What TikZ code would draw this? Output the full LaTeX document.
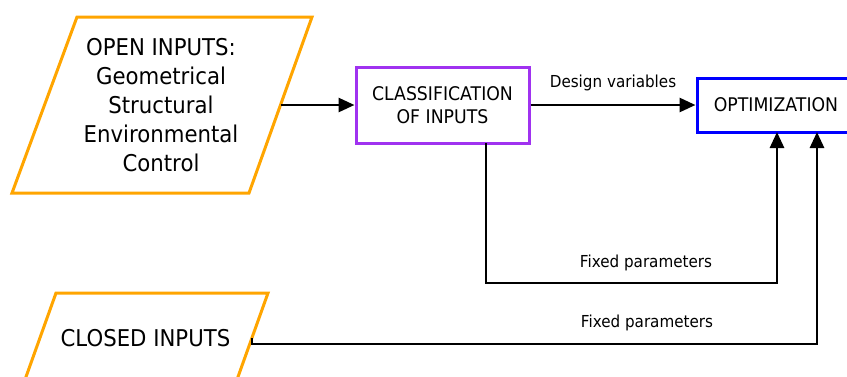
\documentclass[tikz,border=0pt]{standalone}
\usepackage{fontspec}
\setmainfont[FakeStretch=0.92]{DejaVu Sans}
\usetikzlibrary{arrows.meta,calc}
\definecolor{inorange}{RGB}{255,165,0}
\definecolor{clspurple}{RGB}{160,50,240}
\definecolor{optblue}{RGB}{0,0,255}
\tikzset{
  inputshape/.style={draw=inorange, line width=3pt, fill=white},
  bigtext/.style={font=\fontsize{23.1}{29}\selectfont, align=center, inner sep=0pt},
  boxtext/.style={font=\fontsize{18.8}{23}\selectfont, align=center},
  edgelabel/.style={font=\fontsize{16.5}{20}\selectfont, inner sep=0pt},
  wire/.style={draw=black, line width=2.8pt},
  flow/.style={wire, -{Triangle[length=16pt,width=14pt]}},
}
\begin{document}
\begin{tikzpicture}[x=1pt,y=-1pt]
\useasboundingbox (0,0) rectangle (847,376);
\clip (0,0) rectangle (847,376);

% open inputs (parallelogram)
\draw[inputshape] (77,17) -- (312,17) -- (249,193) -- (12,193) -- cycle;
\node[bigtext] (open) at (161,105) {OPEN INPUTS:\\Geometrical\\Structural\\Environmental\\Control};
\coordinate (openR) at (280.5,105);

% closed inputs (parallelogram, running past the lower edge)
\draw[inputshape] (56,293) -- (268,293) -- (229,402) -- (17,402) -- cycle;
\node[bigtext] (closed) at (145.5,338) {CLOSED INPUTS};
\coordinate (closedR) at (252,338);

% classification box
\node[draw=clspurple, line width=3pt, minimum width=173pt, minimum height=76pt,
      boxtext, inner sep=0pt] (cls) at (442.5,105) {CLASSIFICATION\\OF INPUTS};

% optimization box
\node[draw=optblue, line width=3pt, minimum width=158pt, minimum height=54pt,
      boxtext, inner sep=0pt] (opt) at (776,105) {OPTIMIZATION};

% connectors
\draw[flow] (openR) -- (cls.west);
\draw[flow] (cls.east) -- node[edgelabel, above=13pt] (dv) {Design variables} (opt.west);

\coordinate (clsB) at (486,143);
\coordinate (optB1) at (777,132);
\coordinate (optB2) at (817,132);
\draw[flow] (clsB) -- (486,283) -- (777,283) -- (optB1);
\node[edgelabel] (fp1) at (646,263) {Fixed parameters};

\draw[flow] (closedR) -- (252,344) -- (817,344) -- (optB2);
\node[edgelabel] (fp2) at (647,323) {Fixed parameters};
\end{tikzpicture}
\end{document}
